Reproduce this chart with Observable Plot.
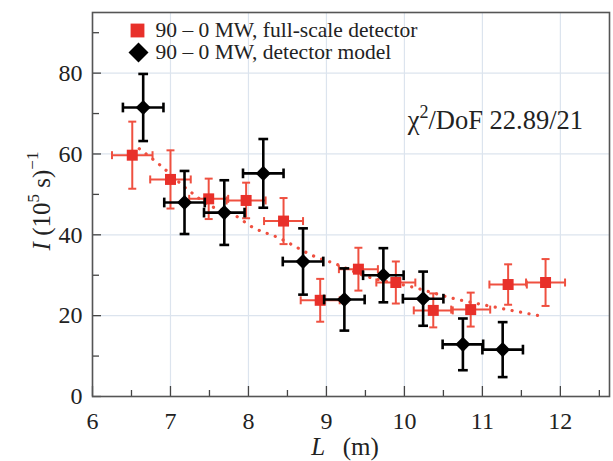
<!DOCTYPE html>
<html>
<head>
<meta charset="utf-8">
<script src="https://cdn.jsdelivr.net/npm/d3@7"></script>
<script src="https://cdn.jsdelivr.net/npm/@observablehq/plot@0.6"></script>
<style>
  html, body { margin: 0; padding: 0; background: #fff; }
  #chart svg { display: block; }
  #chart svg, #chart svg text { font-family: "Liberation Serif", "Times New Roman", serif !important; }
</style>
</head>
<body>
<div id="chart"></div>
<script>
// ---- data ----
const redL    = [6.51, 7.00, 7.49, 7.97, 8.45, 8.92, 9.41, 9.89, 10.37, 10.85, 11.33, 11.81];
const redI    = [59.7, 53.7, 48.9, 48.5, 43.4, 23.8, 31.5, 28.2, 21.3, 21.5, 27.7, 28.2];
const redErrI = [8.3, 7.2, 5.0, 4.4, 5.7, 5.3, 5.3, 5.2, 4.2, 4.2, 5.0, 5.8];
const redErrL = [0.26, 0.26, 0.25, 0.25, 0.25, 0.25, 0.25, 0.25, 0.25, 0.25, 0.24, 0.25];

const blackL    = [6.65, 7.18, 7.69, 8.19, 8.70, 9.23, 9.73, 10.24, 10.75, 11.26];
const blackI    = [71.5, 48.0, 45.5, 55.2, 33.4, 24.0, 30.0, 24.2, 12.9, 11.6];
const blackErrI = [8.3, 7.8, 8.0, 8.5, 8.2, 7.7, 6.7, 6.7, 6.4, 6.8];
const blackErrL = [0.26, 0.26, 0.26, 0.26, 0.26, 0.26, 0.26, 0.26, 0.26, 0.26];

const fitL = [6.60, 6.87, 7.20, 7.50, 7.81, 8.06, 8.37, 8.88, 9.09, 9.50, 10.12, 10.58, 11.19, 11.78];
const fitI = [61.3, 57.2, 51.5, 47.3, 45.0, 41.8, 39.4, 34.4, 33.0, 29.8, 27.0, 24.5, 22.0, 19.8];

const xMajor = [6, 7, 8, 9, 10, 11, 12];
const xMinor = [6.5, 7.5, 8.5, 9.5, 10.5, 11.5, 12.5];
const yMajor = [0, 20, 40, 60, 80];
const yMinor = [10, 30, 50, 70, 90];

const legendLabels = ["90 \u2013 0 MW, full-scale detector", "90 \u2013 0 MW, detector model"];
const chiLabel = ["\u03c7", "2", "/DoF 22.89/21"];

// ---- tables ----
const red = redL.map((L, i) => ({L, I: redI[i], eI: redErrI[i], eL: redErrL[i]}));
const black = blackL.map((L, i) => ({L, I: blackI[i], eI: blackErrI[i], eL: blackErrL[i]}));
const fit = fitL.map((L, i) => ({L, I: fitI[i]}));

const RED = "#e8302a";
const RED_BAR = "#ef5040";
const FONT = "'Liberation Serif', 'Times New Roman', serif";

const capH = { draw(ctx, size) { const r = Math.sqrt(size) / 2; ctx.moveTo(-r, 0); ctx.lineTo(r, 0); } };
const capV = { draw(ctx, size) { const r = Math.sqrt(size) / 2; ctx.moveTo(0, -r); ctx.lineTo(0, r); } };

function errMarks(data, color, sw, capR) {
  return [
    Plot.ruleX(data, {x: "L", y1: d => d.I - d.eI, y2: d => d.I + d.eI, stroke: color, strokeWidth: sw}),
    Plot.ruleY(data, {y: "I", x1: d => d.L - d.eL, x2: d => d.L + d.eL, stroke: color, strokeWidth: sw}),
    Plot.dot(data, {x: "L", y: d => d.I + d.eI, symbol: capH, r: capR, stroke: color, strokeWidth: sw}),
    Plot.dot(data, {x: "L", y: d => d.I - d.eI, symbol: capH, r: capR, stroke: color, strokeWidth: sw}),
    Plot.dot(data, {x: d => d.L - d.eL, y: "I", symbol: capV, r: capR, stroke: color, strokeWidth: sw}),
    Plot.dot(data, {x: d => d.L + d.eL, y: "I", symbol: capV, r: capR, stroke: color, strokeWidth: sw})
  ];
}

const frameH = 461 - 12 - 65;
const frameW = 613 - 92 - 4;

const chart = Plot.plot({
  width: 613,
  height: 461,
  marginLeft: 92,
  marginRight: 4,
  marginTop: 12,
  marginBottom: 65,
  style: {fontFamily: FONT, background: "#fff", color: "#222"},
  x: {domain: [6, 12.63], label: null},
  y: {domain: [0, 95], label: null},
  marks: [
    Plot.gridX(xMajor, {stroke: "#dce4ee", strokeOpacity: 1, strokeWidth: 1.2}),
    Plot.gridY(yMajor, {stroke: "#dce4ee", strokeOpacity: 1, strokeWidth: 1.2}),
    // inward ticks
    Plot.tickX(xMajor, {x: d => d, insetTop: frameH - 10, stroke: "#444", strokeWidth: 1.3}),
    Plot.tickX(xMinor, {x: d => d, insetTop: frameH - 6, stroke: "#444", strokeWidth: 1.3}),
    Plot.tickY(yMajor, {y: d => d, insetRight: frameW - 9, stroke: "#444", strokeWidth: 1.3}),
    Plot.tickY(yMinor, {y: d => d, insetRight: frameW - 7, stroke: "#444", strokeWidth: 1.3}),
    Plot.axisX(xMajor, {tickSize: 0, tickPadding: 15, fontSize: 24, fontFamily: FONT, fill: "#222"}),
    Plot.axisY(yMajor, {tickSize: 0, tickPadding: 10, fontSize: 24, fontFamily: FONT, fill: "#222"}),
    // fit line
    Plot.line(fit, {x: "L", y: "I", stroke: RED_BAR, strokeWidth: 3.2, strokeDasharray: "0.1 8.5", strokeLinecap: "round", curve: "monotone-x"}),
    // red series
    ...errMarks(red, RED_BAR, 2, 4.5),
    Plot.dot(red, {x: "L", y: "I", symbol: "square", r: 6.2, fill: RED, stroke: "none"}),
    // black series
    ...errMarks(black, "#000", 2.6, 5.5),
    Plot.dot(black, {x: "L", y: "I", symbol: "diamond2", r: 6.8, fill: "#000", stroke: "none"}),
    // legend
    Plot.dot([legendLabels[0]], {frameAnchor: "top-left", dx: 45, dy: 18, symbol: "square", r: 7.8, fill: RED, stroke: "none"}),
    Plot.dot([legendLabels[1]], {frameAnchor: "top-left", dx: 46, dy: 40, symbol: "diamond2", r: 9, fill: "#000", stroke: "none"}),
    Plot.text([legendLabels[0]], {text: d => d, frameAnchor: "top-left", dx: 63, dy: 18, textAnchor: "start", lineAnchor: "middle", fontSize: 21.5, fontFamily: FONT, fill: "#222"}),
    Plot.text([legendLabels[1]], {text: d => d, frameAnchor: "top-left", dx: 63, dy: 40, textAnchor: "start", lineAnchor: "middle", fontSize: 21.5, fontFamily: FONT, fill: "#222"}),
    Plot.frame({stroke: "#555", strokeWidth: 1.6})
  ]
});

const svg = d3.select(chart);

// chi-square annotation
const chi = svg.append("text")
  .attr("x", 583).attr("y", 129)
  .attr("text-anchor", "end")
  .attr("font-family", FONT).attr("font-size", 26.5).attr("fill", "#222");
chi.append("tspan").text(chiLabel[0]);
chi.append("tspan").attr("font-size", 18).attr("dy", -11).text(chiLabel[1]);
chi.append("tspan").attr("dy", 11).text(chiLabel[2]);

// y label
const yl = svg.append("text")
  .attr("transform", "translate(50,201) rotate(-90)")
  .attr("text-anchor", "middle")
  .attr("font-family", FONT).attr("font-size", 25).attr("fill", "#222");
yl.append("tspan").attr("font-style", "italic").text("I");
yl.append("tspan").text(" (10");
yl.append("tspan").attr("font-size", 17).attr("dy", -11).text("5");
yl.append("tspan").attr("dy", 11).text(" s)");
yl.append("tspan").attr("font-size", 17).attr("dy", -12).text("\u22121");

// x label
const xl = svg.append("text")
  .attr("x", 345).attr("y", 455)
  .attr("text-anchor", "middle")
  .attr("font-family", FONT).attr("font-size", 25).attr("fill", "#222");
xl.append("tspan").attr("font-style", "italic").text("L");
xl.append("tspan").text("\u2002\u2009(m)");

document.getElementById("chart").appendChild(chart);
</script>
</body>
</html>
